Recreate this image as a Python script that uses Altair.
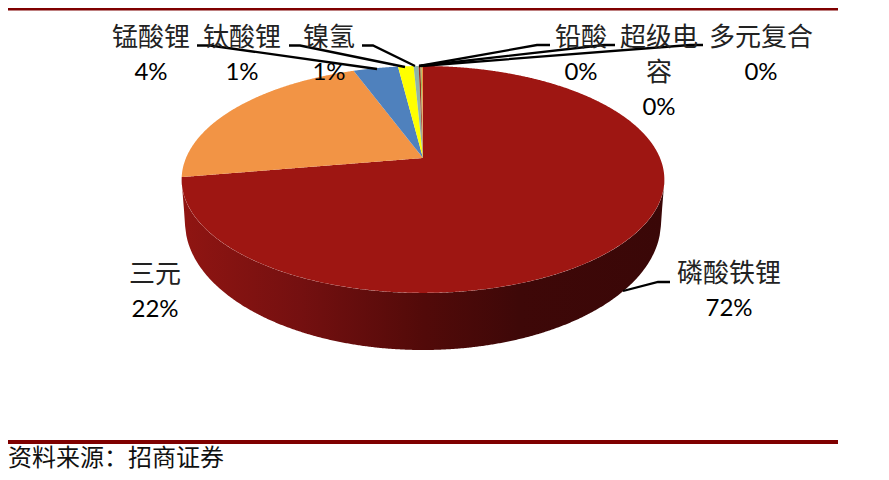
import numpy as np
import pandas as pd
import altair as alt

# Chart values
categories = ["磷酸铁锂", "三元", "锰酸锂", "钛酸锂", "镍氢", "铅酸", "超级电容", "多元复合"]
shares = [72.3, 22.1, 3.6, 1.25, 0.4, 0.15, 0.1, 0.1]
slice_colors = ["#9E1612", "#F29445", "#4F81BD", "#FFFF00", "#8FB5A8", "#A03020", "#9BBB59", "#F29445"]

label_lines = ["锰酸锂", "钛酸锂", "镍氢", "铅酸", "超级电", "容", "多元复合", "三元", "磷酸铁锂"]
label_x = [151, 242, 329, 581, 659, 659, 761, 155, 729]
label_y = [38, 38, 38, 38, 38, 73, 38, 275, 274]
pct_text = ["4%", "1%", "1%", "0%", "0%", "0%", "22%", "72%"]
pct_x = [151, 242, 329, 581, 659, 761, 155, 729]
pct_y = [73, 73, 73, 73, 108, 73, 310, 309]

leader_ids = [0, 0, 0, 1, 1, 1, 2, 2, 2, 3, 3, 3, 4, 4, 4, 5, 5, 5, 6, 6, 6]
leader_x = [197, 210, 377, 289, 300, 405, 362, 373, 415, 550, 537, 419,
            615, 604, 419, 703, 690, 421, 670, 658, 623]
leader_y = [45.5, 45.5, 69, 45.5, 45.5, 67, 45.5, 45.5, 66, 45, 45, 66,
            45, 45, 66, 45, 45, 66, 282, 282, 291]

source_text = "资料来源\uff1a招商证券"
RULE = "#7F0000"

# Pie geometry (screen coordinates of the picture)
APEX_X, APEX_Y = 423.0, 158.0
B, A, K = 237.0, 109.4, -0.189
TOP_CY, TOP_RY, TOP_RX = 179.5, 113.5, 241.5
BOT_CY, BOT_RY, BOT_RX = 222.0, 128.0, 238.0


def rim(theta_deg):
    t = np.radians(theta_deg)
    u, v = np.sin(t), -np.cos(t)
    w = 1 + K * v
    return APEX_X + B * u / w, APEX_Y + A * v / w


def sector(start, end, name, order):
    ths = np.linspace(start, end, max(int((end - start) * 2), 3))
    rx, ry = rim(ths)
    px = np.r_[APEX_X, rx, APEX_X]
    py = np.r_[APEX_Y, ry, APEX_Y]
    xs = np.unique(np.r_[px, np.linspace(px.min(), px.max(), 240)])
    rows = []
    for x in xs:
        hits = []
        for i in range(len(px) - 1):
            x1, x2 = px[i], px[i + 1]
            if min(x1, x2) <= x <= max(x1, x2):
                if x1 == x2:
                    hits += [py[i], py[i + 1]]
                else:
                    hits.append(py[i] + (x - x1) / (x2 - x1) * (py[i + 1] - py[i]))
        if hits:
            rows.append({"x": x, "y": min(hits), "y2": max(hits), "name": name, "o": order})
    return rows


edges = np.cumsum([0] + shares) / sum(shares) * 360
top_rows = []
for i, c in enumerate(categories):
    top_rows += sector(edges[i], edges[i + 1], c, i)
top_df = pd.DataFrame(top_rows)

wx = np.linspace(APEX_X - TOP_RX, APEX_X + TOP_RX, 400)
dx = np.abs(wx - APEX_X)
wt = TOP_CY + TOP_RY * np.sqrt(np.clip(1 - (dx / TOP_RX) ** 2, 0, 1))
wb = np.where(
    dx <= BOT_RX,
    BOT_CY + BOT_RY * np.sqrt(np.clip(1 - (dx / BOT_RX) ** 2, 0, 1)),
    BOT_CY + (TOP_CY - BOT_CY) * (dx - BOT_RX) / (TOP_RX - BOT_RX),
)
wall_df = pd.DataFrame({"x": wx, "y": wt, "y2": wb})

X = alt.X("x:Q", scale=alt.Scale(domain=[8, 881], nice=False, zero=False), axis=None)
Y = alt.Y("y:Q", scale=alt.Scale(domain=[472, 8], nice=False, zero=False), axis=None)

wall = alt.Chart(wall_df).mark_area(
    color=alt.Gradient(
        gradient="linear", x1=0, x2=1, y1=0, y2=0,
        stops=[
            alt.GradientStop(offset=0, color="#901512"),
            alt.GradientStop(offset=0.25, color="#741010"),
            alt.GradientStop(offset=0.5, color="#520A09"),
            alt.GradientStop(offset=0.7, color="#3E0808"),
            alt.GradientStop(offset=1, color="#3A0707"),
        ],
    )
).encode(x=X, y=Y, y2="y2:Q")

slices = [
    alt.Chart(top_df[top_df["name"] == c]).mark_area(color=slice_colors[i]).encode(x=X, y=Y, y2="y2:Q")
    for i, c in enumerate(categories)
]

leaders = alt.Chart(pd.DataFrame({"x": leader_x, "y": leader_y, "id": leader_ids, "o": range(len(leader_x))})).mark_line(
    color="black", strokeWidth=2.3
).encode(x=X, y=Y, detail="id:N", order="o:Q")

labels = alt.Chart(pd.DataFrame({"x": label_x, "y": label_y, "t": label_lines})).mark_text(
    font="Noto Sans CJK SC", fontSize=26, color="#222222", align="center", baseline="middle"
).encode(x=X, y=Y, text="t:N")

pcts = alt.Chart(pd.DataFrame({"x": pct_x, "y": pct_y, "t": pct_text})).mark_text(
    font="Lato", fontSize=24, color="black", align="center", baseline="middle"
).encode(x=X, y=Y, text="t:N")

rules = alt.Chart(pd.DataFrame({"x": [8, 8], "x2": [838, 838], "y": [8, 440], "y2": [10.5, 444]})).mark_rect(
    color=RULE
).encode(x=X, x2="x2:Q", y=Y, y2="y2:Q")

source = alt.Chart(pd.DataFrame({"x": [8], "y": [459], "t": [source_text]})).mark_text(
    font="Noto Sans CJK SC", fontSize=24, color="#111111", align="left", baseline="middle"
).encode(x=X, y=Y, text="t:N")

chart = alt.layer(wall, *slices, leaders, labels, pcts, rules, source).properties(
    width=873, height=464, padding=0, autosize=alt.AutoSizeParams(type="none")
).configure_view(stroke=None)

chart.save("out.html", embed_options={"renderer": "svg", "actions": False})
